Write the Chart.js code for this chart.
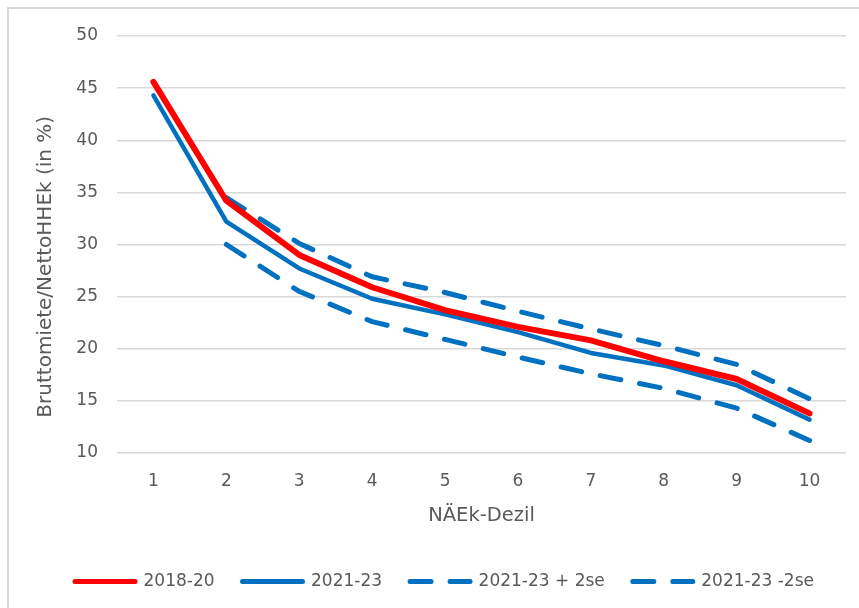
<!DOCTYPE html>
<html>
<head>
<meta charset="utf-8">
<script src="https://cdn.jsdelivr.net/npm/chart.js@4.4.1/dist/chart.umd.min.js"></script>
<style>
  html, body { margin: 0; padding: 0; overflow: hidden; background: #fff; }
  #rahmen { position: absolute; left: 7px; top: 7px; width: 900px; height: 700px; border: 2px solid #d9d9d9; }
  #wrap { position: absolute; left: 0; top: 0; width: 859px; height: 608px; }
</style>
</head>
<body>
<div id="rahmen"></div>
<div id="wrap"><canvas id="chart"></canvas></div>
<script>
// Daten
const dezile = ['1', '2', '3', '4', '5', '6', '7', '8', '9', '10'];
const werte2018 = [45.6, 34.2, 29.0, 25.9, 23.7, 22.1, 20.8, 18.8, 17.1, 13.8];
const werte2021 = [44.3, 32.2, 27.7, 24.8, 23.3, 21.6, 19.6, 18.4, 16.5, 13.2];
const werteOben = [null, 34.5, 30.1, 26.9, 25.4, 23.6, 21.9, 20.3, 18.5, 15.2];
const werteUnten = [null, 30.0, 25.5, 22.6, 20.9, 19.2, 17.6, 16.2, 14.3, 11.2];

const grau = '#595959';
const rot = '#ff0000';
const blau = '#0070c0';
const schrift = 'DejaVu Sans';

// Legende etwas nach rechts schieben (wie im Original)
const legendeVerschieben = {
  id: 'legendeVerschieben',
  afterLayout(chart) {
    chart.legend.left += 23;
  }
};

new Chart(document.getElementById('chart'), {
  type: 'line',
  data: {
    labels: dezile,
    datasets: [
      { label: '2018-20', data: werte2018, borderColor: rot, backgroundColor: rot, borderWidth: 6, order: 1 },
      { label: '2021-23', data: werte2021, borderColor: blau, backgroundColor: blau, borderWidth: 4.5, order: 2 },
      { label: '2021-23 + 2se', data: werteOben, borderColor: blau, backgroundColor: blau, borderWidth: 5, borderDash: [21, 19], order: 3 },
      { label: '2021-23 -2se', data: werteUnten, borderColor: blau, backgroundColor: blau, borderWidth: 5, borderDash: [21, 19], order: 4 }
    ]
  },
  plugins: [legendeVerschieben],
  options: {
    responsive: true,
    maintainAspectRatio: false,
    animation: false,
    elements: {
      point: { radius: 0, hoverRadius: 0 },
      line: { tension: 0, borderCapStyle: 'round', borderJoinStyle: 'round', fill: false }
    },
    layout: {
      padding: { left: 20, right: 13, top: 36, bottom: 8 }
    },
    scales: {
      x: {
        offset: true,
        grid: { display: false },
        border: { display: false },
        ticks: { color: grau, padding: 10, font: { family: schrift, size: 17 } },
        title: {
          display: true,
          text: 'NÄEk-Dezil',
          color: grau,
          padding: { top: 0, bottom: 17 },
          font: { family: schrift, size: 19.5 }
        },
        afterFit: function (scale) {
          scale.height = 92;
        }
      },
      y: {
        min: 10,
        max: 50,
        ticks: { stepSize: 5, color: grau, padding: 19, font: { family: schrift, size: 17 } },
        grid: { color: '#d9d9d9', lineWidth: 1.5, drawTicks: false },
        border: { display: false },
        title: {
          display: true,
          // Leerzeichen am Ende: Titel sitzt im Original etwas tiefer
          text: 'Bruttomiete/NettoHHEk (in %)       ',
          color: grau,
          padding: { top: 14, bottom: 0 },
          font: { family: schrift, size: 20 }
        },
        afterFit: function (scale) {
          scale.width = 97;
        }
      }
    },
    plugins: {
      legend: {
        position: 'bottom',
        labels: {
          usePointStyle: true,
          pointStyle: 'line',
          pointStyleWidth: 60,
          padding: 28,
          color: grau,
          font: { family: schrift, size: 17 },
          // Linienstil der Legende aus den Datensätzen übernehmen
          generateLabels: function (chart) {
            return chart.data.datasets.map((ds, i) => ({
              text: ds.label,
              datasetIndex: i,
              strokeStyle: ds.borderColor,
              fillStyle: ds.borderColor,
              lineWidth: 5,
              lineDash: ds.borderDash || [],
              lineCap: 'round',
              pointStyle: 'line',
              fontColor: grau,
              hidden: false
            }));
          }
        }
      },
      tooltip: { enabled: false }
    }
  }
});
</script>
</body>
</html>
